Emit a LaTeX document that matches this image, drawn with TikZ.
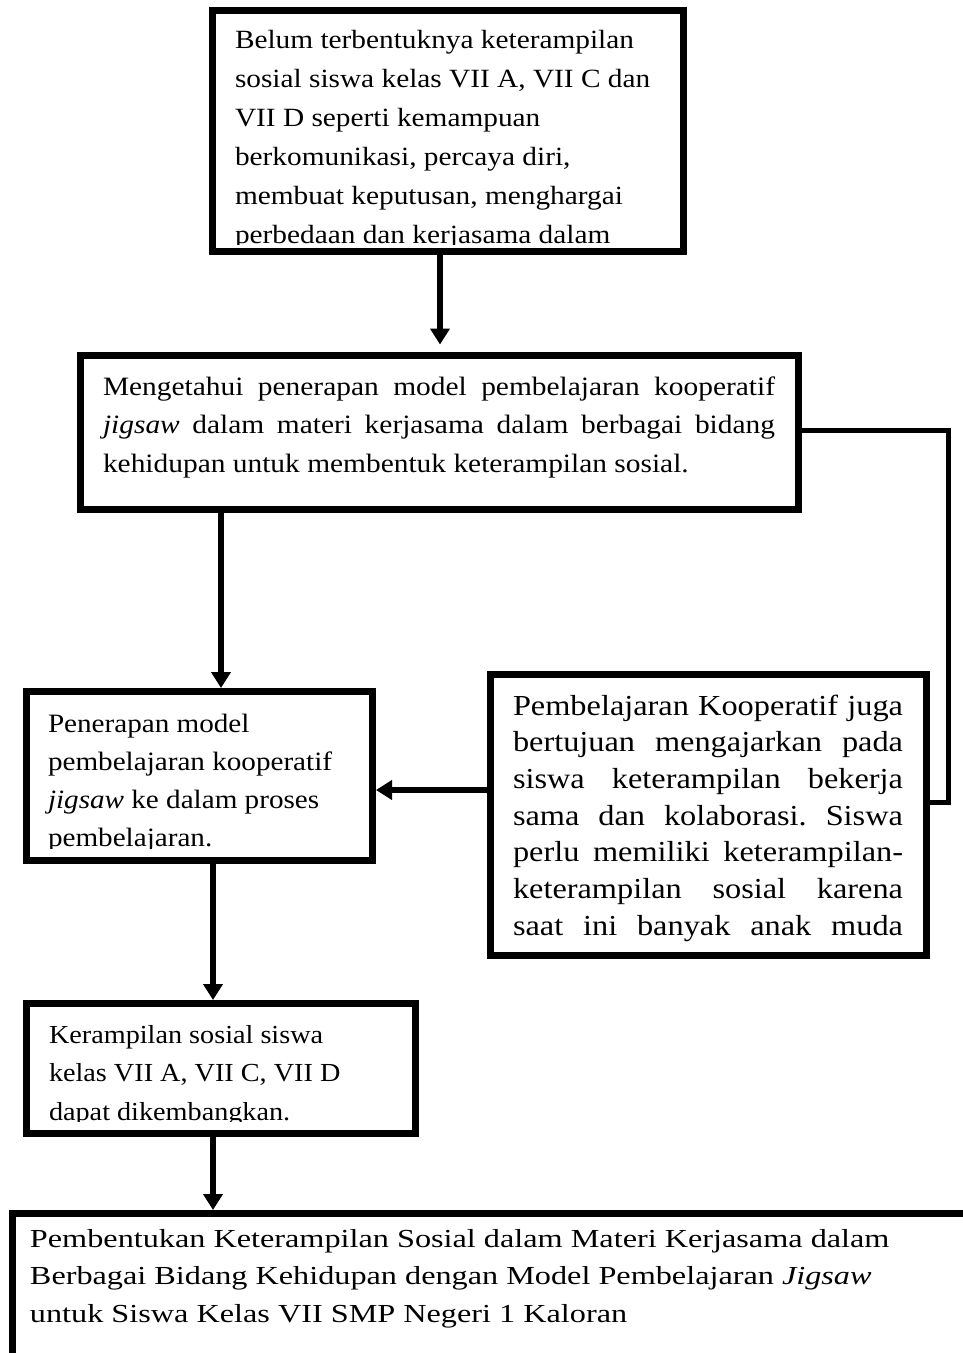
\documentclass[tikz,border=0pt]{standalone}
\usepackage{fontspec}
\setmainfont{Liberation Serif}
\newfontfamily\fa[FakeStretch=1.115]{Liberation Serif}
\newfontfamily\fb[FakeStretch=1.11]{Liberation Serif}
\newfontfamily\fc[FakeStretch=1.10]{Liberation Serif}
\newfontfamily\fd[FakeStretch=1.115]{Liberation Serif}
\newfontfamily\fe[FakeStretch=1.085]{Liberation Serif}
\newfontfamily\ff[FakeStretch=1.24]{Liberation Serif}
\usetikzlibrary{arrows.meta}
\newcommand\jl[1]{\hbox to\hsize{#1}}
\newcommand\nl[1]{\hbox{#1}}
\frenchspacing
\begin{document}
\begin{tikzpicture}[x=1pt,y=-1pt,
  box/.style={draw, line width=7pt, inner sep=0pt, rectangle},
  txt/.style={anchor=base west, inner sep=0pt, outer sep=0pt},
  arr/.style={line width=6pt, -{Triangle[width=19pt,length=16pt]}},
  link/.style={line width=5pt}]
\useasboundingbox (0,0) rectangle (963,1353);

% texts (clipped to box interiors)
\begin{scope}
\clip (215.5,14) rectangle (679.5,244.5);
\node[txt] (t1) at (235,48) {\parbox[t]{440pt}{\fa\fontsize{26.3}{39}\selectfont
\nl{Belum terbentuknya keterampilan}
\nl{sosial siswa kelas VII A, VII C dan}
\nl{VII D seperti kemampuan}
\nl{berkomunikasi, percaya diri,}
\nl{membuat keputusan, menghargai}
\nl{perbedaan dan kerjasama dalam}}};
\end{scope}

\node[txt] (t2) at (103,395) {\parbox[t]{672pt}{\fb\fontsize{26.5}{38.5}\selectfont
\jl{Mengetahui penerapan model pembelajaran kooperatif}
\jl{\textit{jigsaw} dalam materi kerjasama dalam berbagai bidang}
\nl{kehidupan untuk membentuk keterampilan sosial.}}};

\begin{scope}
\clip (30,695) rectangle (369,848.5);
\node[txt] (t3) at (48,732) {\parbox[t]{320pt}{\fc\fontsize{26.5}{38.3}\selectfont
\nl{Penerapan model}
\nl{pembelajaran kooperatif}
\nl{\textit{jigsaw} ke dalam proses}
\nl{pembelajaran.}}};
\end{scope}

\begin{scope}
\clip (494,677.5) rectangle (923,951.5);
\node[txt] (t4) at (513,715) {\parbox[t]{390pt}{\fd\fontsize{29}{36.7}\selectfont
\jl{Pembelajaran Kooperatif juga}
\jl{bertujuan mengajarkan pada}
\jl{siswa keterampilan bekerja}
\jl{sama dan kolaborasi. Siswa}
\jl{perlu memiliki keterampilan-}
\jl{keterampilan sosial karena}
\jl{saat ini banyak anak muda}}};
\end{scope}

\begin{scope}
\clip (30,1007) rectangle (412,1121);
\node[txt] (t5) at (49,1043) {\parbox[t]{350pt}{\fe\fontsize{26}{38.5}\selectfont
\nl{Kerampilan sosial siswa}
\nl{kelas VII A, VII C, VII D}
\nl{dapat dikembangkan.}}};
\end{scope}

\node[txt] (t6) at (30,1247) {\parbox[t]{920pt}{\ff\fontsize{26}{37.5}\selectfont
\nl{Pembentukan Keterampilan Sosial dalam Materi Kerjasama dalam}
\nl{Berbagai Bidang Kehidupan dengan Model Pembelajaran \textit{Jigsaw}}
\nl{untuk Siswa Kelas VII SMP Negeri 1 Kaloran}}};

% boxes
\node[box, minimum width=471pt, minimum height=241pt] (b1) at (447.5,131) {};
\node[box, minimum width=718pt, minimum height=154pt] (b2) at (439.5,432) {};
\node[box, minimum width=346pt, minimum height=169pt] (b3) at (199.5,776) {};
\node[box, minimum width=436pt, minimum height=281pt] (b4) at (708.5,814.5) {};
\node[box, minimum width=389pt, minimum height=130pt] (b5) at (221,1068.5) {};
\node[box, minimum width=1087.5pt, minimum height=286.5pt] (b6) at (556.25,1356.75) {};

% connector guides
\coordinate (c1) at (440,0);
\coordinate (c2) at (221,0);
\coordinate (c3) at (0,790);
\coordinate (c4) at (213,0);
\coordinate (rx) at (948,0);
\coordinate (ry1) at (0,430);
\coordinate (ry2) at (0,802);

\draw[arr, shorten >=7pt] (b1.south -| c1) -- (b2.north -| c1);
\draw[arr] (b2.south -| c2) -- (b3.north -| c2);
\draw[arr] (b4.west |- c3) -- (b3.east |- c3);
\draw[arr] (b3.south -| c4) -- (b5.north -| c4);
\draw[arr] (b5.south -| c4) -- (b6.north -| c4);
\draw[link] (b2.east |- ry1) -- (rx |- ry1) -- (rx |- ry2) -- (b4.east |- ry2);
\end{tikzpicture}
\end{document}
